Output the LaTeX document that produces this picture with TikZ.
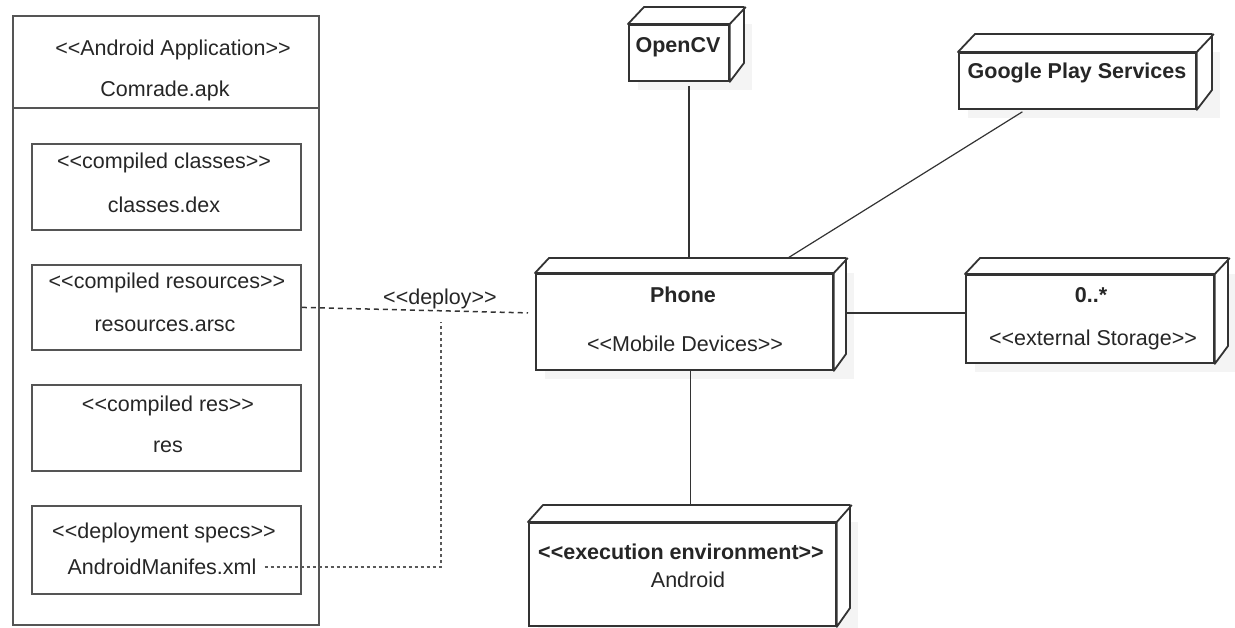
\documentclass[tikz,border=0pt]{standalone}
\usepackage{fontspec}
\setmainfont{Liberation Sans}
\usetikzlibrary{calc}
\pgfdeclarelayer{bg}
\pgfsetlayers{bg,main}
\definecolor{linec}{HTML}{333333}
\definecolor{boxc}{HTML}{555555}
\definecolor{shadc}{HTML}{F4F4F4}
\newcommand\sopen{<{}<}
\newcommand\sclose{>{}>}
\tikzset{
  outerbox/.style={draw=boxc, line width=1.8pt, inner sep=0pt, anchor=north west},
  innerbox/.style={draw=boxc, line width=1.8pt, inner sep=0pt, anchor=north west},
  front/.style={draw=linec, line width=1.8pt, fill=white, inner sep=0pt, anchor=north west},
  edge/.style={draw=linec, line width=1.8pt, fill=white, line join=round},
  txt/.style={inner sep=0pt, font=\fontsize{21.5pt}{24pt}\selectfont, text=black!85},
  btxt/.style={txt, font=\fontsize{21.5pt}{24pt}\selectfont\bfseries},
  conn/.style={draw=linec, line width=1.2pt},
  deployline/.style={draw=linec, line width=1.5pt, dash pattern=on 5pt off 4pt},
  specline/.style={draw=black!65, line width=1.8pt, dash pattern=on 3pt off 3pt},
}
% #1 name, #2 x1, #3 y1, #4 x2, #5 y2, #6 dx, #7 dy
\newcommand\cube[7]{%
  \begin{pgfonlayer}{bg}
    \fill[shadc] (#2+10,#3) rectangle (#4+#6+8,#5+10);
  \end{pgfonlayer}
  \node[front, minimum width={#4-#2}, minimum height={#5-#3}] (#1) at (#2,#3) {};
  \draw[edge] (#1.north west) -- ++(#6,-#7) -- ++(#4-#2,0) -- ++(0,#5-#3) -- (#1.south east) -- (#1.north east) -- cycle;
  \draw[edge] (#1.north east) -- ++(#6,-#7);
}
\begin{document}
\begin{tikzpicture}[x=1pt,y=-1pt]
\useasboundingbox (0,0) rectangle (1235,627);

% Left artifact
\node[outerbox, minimum width=306, minimum height=609] (apk) at (12,15) {};
\coordinate (divY) at (0,108);
\draw[draw=boxc, line width=1.8pt] (apk.west |- divY) -- (apk.east |- divY);
\node[txt] (hdr1) at (173,50) {\sopen Android Application\sclose};
\node[txt] (hdr2) at (165,91) {Comrade.apk};

\node[innerbox, minimum width=269, minimum height=86] (comp1) at (31,143) {};
\node[txt] (comp1a) at (164,163) {\sopen compiled classes\sclose};
\node[txt] (comp1b) at (164,205) {classes.dex};

\node[innerbox, minimum width=269, minimum height=85] (comp2) at (31,264) {};
\node[txt] (comp2a) at (167,283) {\sopen compiled resources\sclose};
\node[txt] (comp2b) at (165,326) {resources.arsc};

\node[innerbox, minimum width=269, minimum height=86] (comp3) at (31,384) {};
\node[txt] (comp3a) at (168,406) {\sopen compiled res\sclose};
\node[txt] (comp3b) at (168,447) {res};

\node[innerbox, minimum width=269, minimum height=88] (comp4) at (31,505) {};
\node[txt] (comp4a) at (164,533) {\sopen deployment specs\sclose};
\node[txt] (comp4b) at (162,567) {AndroidManifes.xml};

% 3D nodes
\cube{opencv}{628}{24}{728}{80}{16}{17}
\node[btxt] (opencvT) at (678,47) {OpenCV};

\cube{gps}{958}{52}{1195}{108}{17}{18}
\node[btxt] (gpsT) at (1077,73) {Google Play Services};

\cube{phone}{535}{273}{832}{369}{14}{15}
\node[btxt] (phoneT) at (683,295) {Phone};
\node[txt] (phoneS) at (685,344) {\sopen Mobile Devices\sclose};

\cube{ext}{965}{274}{1213}{362}{15}{16}
\node[btxt] (extT) at (1091,295) {0..*};
\node[txt] (extS) at (1093,340) {\sopen external Storage\sclose};

\cube{android}{528}{522}{835}{625}{15}{17}
\node[btxt] (androidT) at (681,552) {\sopen execution environment\sclose};
\node[txt] (androidS) at (688,580) {Android};

% Connectors (behind the nodes)
\begin{pgfonlayer}{bg}
  \draw[conn] ([xshift=10pt,yshift=-4pt]opencv.south) -- ([xshift=10pt]opencv.south |- phone.center);
  \draw[conn] ([xshift=-55pt,yshift=-2pt]gps.south) -- ($(phone.north)+(103.5,-15)$);
  \draw[conn] ([yshift=9pt]phone.east) -- ([yshift=6pt]ext.west);
  \draw[conn] ([xshift=6pt]phone.south) -- ([xshift=6pt]phone.south |- android.center);
\end{pgfonlayer}

% Deploy dependencies
\draw[deployline] (comp2.east) -- ([xshift=-7pt,yshift=9pt]phone.west);
\node[txt] (deployL) at (440,299) {\sopen deploy\sclose};
\coordinate (specTurn) at (441,322);
\draw[specline] ([xshift=8pt]comp4b.east) -| (specTurn);
\end{tikzpicture}
\end{document}
